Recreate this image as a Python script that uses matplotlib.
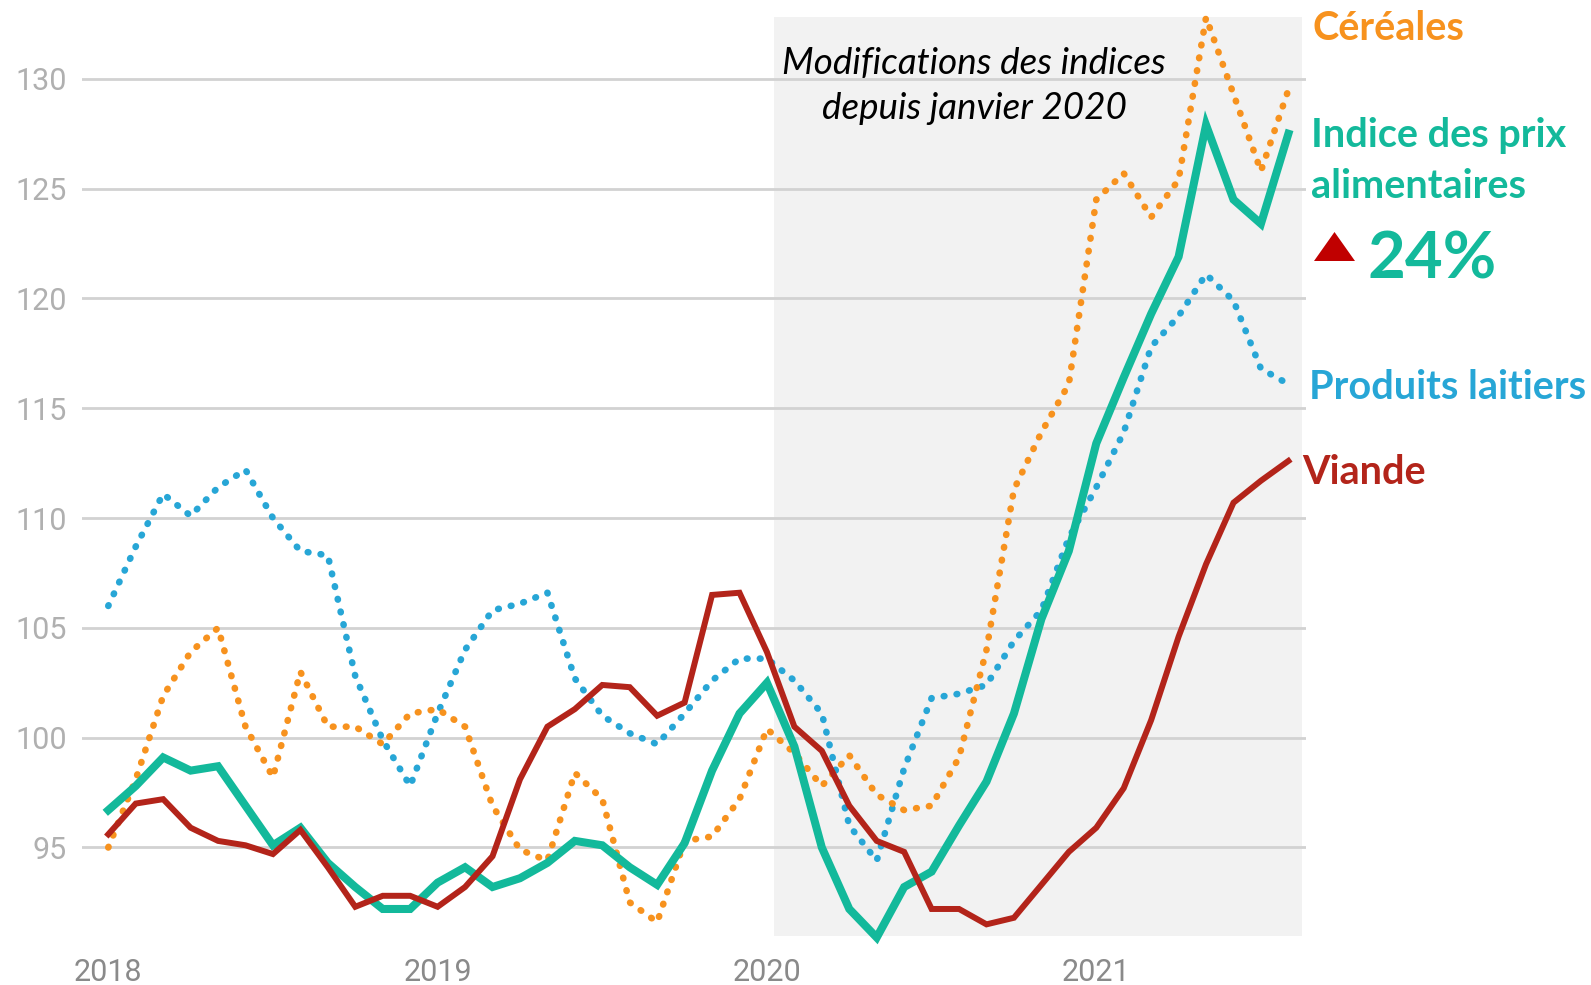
import matplotlib
matplotlib.use("Agg")
import matplotlib.pyplot as plt
import matplotlib.patches as patches
import numpy as np

# monthly values, Jan 2018 .. Aug 2021
months = np.arange(44)
years = [2018, 2019, 2020, 2021]
y_ticks = [95, 100, 105, 110, 115, 120, 125, 130]

food_index = [96.7, 97.8, 99.1, 98.5, 98.7, 96.9, 95.1, 95.9, 94.3, 93.2, 92.2, 92.2,
              93.4, 94.1, 93.2, 93.6, 94.3, 95.3, 95.1, 94.1, 93.3, 95.2, 98.5, 101.1,
              102.5, 99.6, 95.0, 92.2, 90.9, 93.2, 93.9, 96.0, 98.0, 101.1, 105.4, 108.5,
              113.4, 116.4, 119.3, 121.9, 127.9, 124.5, 123.4, 127.5]
cereals = [95.0, 98.1, 101.9, 103.9, 105.0, 100.5, 98.2, 103.0, 100.5, 100.5, 99.7, 101.1,
           101.3, 100.5, 96.9, 94.9, 94.4, 98.4, 97.2, 92.5, 91.6, 95.3, 95.5, 97.2,
           100.4, 99.3, 97.8, 99.2, 97.4, 96.7, 96.9, 99.1, 104.0, 111.3, 113.9, 116.1,
           124.5, 125.7, 123.7, 125.4, 132.8, 129.3, 125.8, 129.5]
dairy = [106.0, 108.7, 111.1, 110.1, 111.4, 112.2, 110.0, 108.5, 108.3, 102.8, 99.9, 97.8,
         101.1, 104.0, 105.8, 106.1, 106.6, 102.7, 101.0, 100.2, 99.7, 101.1, 102.6, 103.6,
         103.6, 102.6, 101.1, 96.0, 94.4, 98.6, 101.8, 102.0, 102.4, 104.4, 105.8, 109.1,
         111.4, 113.9, 117.8, 119.2, 121.1, 119.9, 116.8, 116.1]
meat = [95.6, 97.0, 97.2, 95.9, 95.3, 95.1, 94.7, 95.8, 94.1, 92.3, 92.8, 92.8,
        92.3, 93.2, 94.6, 98.1, 100.5, 101.3, 102.4, 102.3, 101.0, 101.6, 106.5, 106.6,
        103.9, 100.5, 99.4, 96.9, 95.3, 94.8, 92.2, 92.2, 91.5, 91.8, 93.3, 94.8,
        95.9, 97.7, 100.8, 104.6, 107.9, 110.7, 111.7, 112.6]

GREEN = "#13b99b"
ORANGE = "#f7921e"
BLUE = "#27a6d6"
RED = "#b3241a"

W, H = 1591, 985
x = 2018 + months / 12

fig = plt.figure(figsize=(W / 100, H / 100), dpi=100)
ax = fig.add_axes([0.0515, 0.0502, 0.7694, 0.9322])

# shaded period since January 2020
ax.axvspan(2020.02, 2021.625, color="#f2f2f2", zorder=0, lw=0)

dot = dict(linestyle=(0, (0.1, 1.85)), dash_capstyle="round", lw=4.8, clip_on=False)
ax.plot(x, dairy, color=BLUE, zorder=3, **dot)
ax.plot(x, cereals, color=ORANGE, zorder=3, **dot)
ax.plot(x, food_index, color=GREEN, lw=5.8, zorder=4, solid_joinstyle="miter", clip_on=False)
ax.plot(x, meat, color=RED, lw=4.3, zorder=5, solid_joinstyle="miter", clip_on=False)

ax.set_xlim(2017.92, 2021.637)
ax.set_ylim(90.99, 132.8)
ax.set_yticks(y_ticks)
ax.set_xticks(years)
ax.set_xticklabels([str(y) for y in years])
ax.grid(axis="y", color="#d2d2d2", lw=2)
ax.grid(axis="x", visible=False)
ax.set_axisbelow(True)
for s in ax.spines.values():
    s.set_visible(False)
ax.tick_params(axis="y", length=0, pad=11, labelsize=22, labelcolor="#b0b0b0")
ax.tick_params(axis="x", length=0, pad=16, labelsize=22, labelcolor="#8a8a8a")
for lab in ax.get_xticklabels() + ax.get_yticklabels():
    lab.set_family("Roboto")

fig.text(974 / W, 1 - 86 / H, "Modifications des indices\ndepuis janvier 2020",
         ha="center", va="center", fontsize=26.5, style="italic", family="Lato",
         color="black", linespacing=1.42)

# series labels on the right
lab = dict(fontsize=28.5, fontweight="bold", family="Lato", va="center", ha="left")
fig.text(1312 / W, 1 - 28 / H, "Céréales", color=ORANGE, **lab)
fig.text(1311 / W, 1 - 161 / H, "Indice des prix\nalimentaires", color=GREEN,
         linespacing=1.48, **lab)
fig.text(1309 / W, 1 - 388 / H, "Produits laitiers", color=BLUE, **lab)
fig.text(1302 / W, 1 - 473 / H, "Viande", color=RED, **lab)

# red up-triangle and the +24% figure
tri = patches.Polygon([(1314 / W, 1 - 261 / H), (1355 / W, 1 - 261 / H), (1334.5 / W, 1 - 232 / H)],
                      closed=True, color="#c00000", transform=fig.transFigure, lw=0)
fig.patches.append(tri)
fig.text(1368 / W, 1 - 260 / H, "24%", color=GREEN, fontsize=47,
         fontweight="bold", family="Lato", va="center", ha="left")

fig.savefig("out.png", dpi=100)
plt.close(fig)
